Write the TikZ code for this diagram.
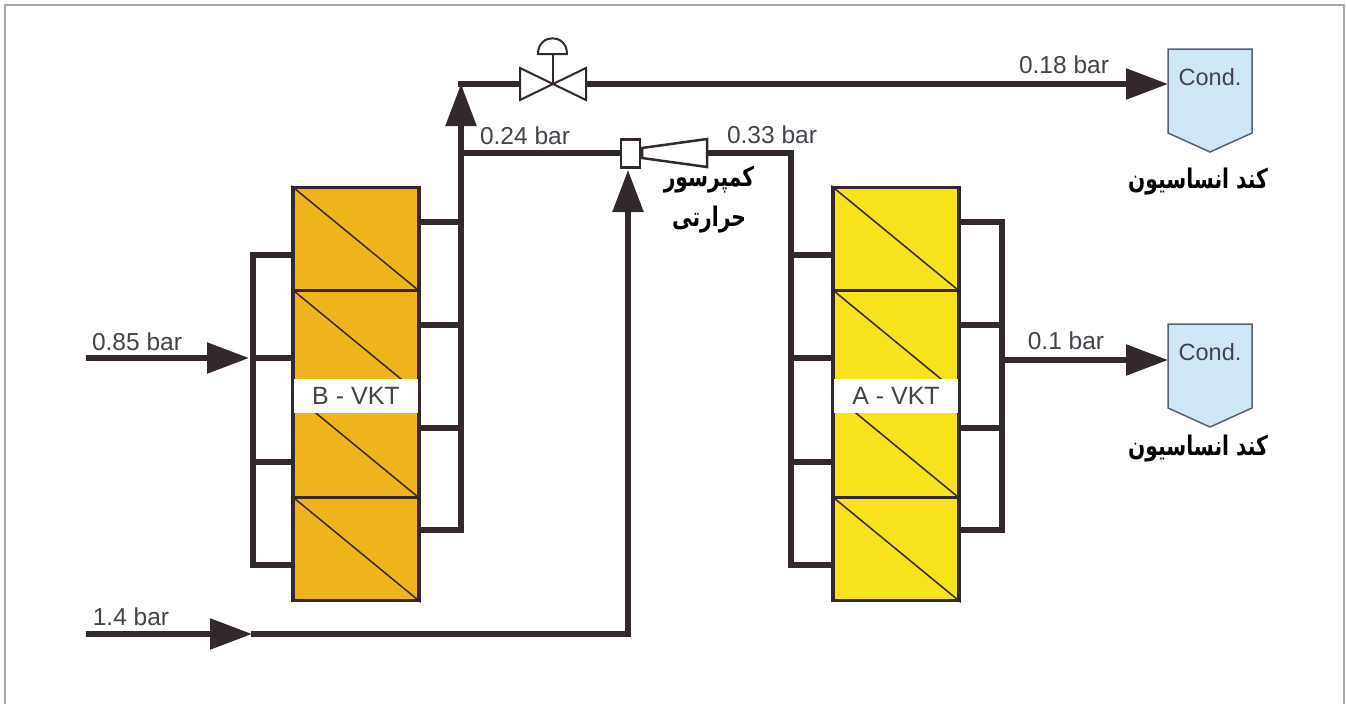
\documentclass[tikz,border=0pt]{standalone}
\usepackage{fontspec}
\usepackage{xcolor}
\usetikzlibrary{arrows.meta}
\setmainfont{Liberation Sans}
\newfontfamily\arabicfont[Script=Arabic,FakeStretch=0.75]{DejaVu Sans}
\TeXXeTstate=1
\definecolor{pipedark}{HTML}{33282B}
\definecolor{labelgray}{HTML}{45424A}
\definecolor{vktorange}{HTML}{EFB41C}
\definecolor{vktyellow}{HTML}{F8E21C}
\definecolor{condblue}{HTML}{CFE6F5}
\definecolor{condedge}{HTML}{5A5F70}
\begin{document}
\begin{tikzpicture}[x=1pt,y=-1pt,line join=miter,
  pipe/.style={draw=pipedark,line width=5.5},
  flow/.style={pipe,-{Triangle[length=42pt,width=30pt]}},
  module/.style={draw=pipedark,line width=3.5,minimum width=126,minimum height=103,inner sep=0},
  band/.style={fill=white,minimum width=124,minimum height=34,inner sep=0,text=labelgray,font=\fontsize{25}{25}\selectfont},
  barlabel/.style={text=labelgray,inner sep=0,font=\fontsize{24.5}{24.5}\selectfont},
  farsi/.style={text=black,inner sep=0,font=\fontsize{27}{27}\selectfont\arabicfont\bfseries},
  part/.style={draw=pipedark,line width=2.5,fill=white}]
\useasboundingbox (0,0) rectangle (1346,704);
\draw[draw=gray!70,line width=2.5] (5,704) -- (5,5) -- (1344,5) -- (1344,704);

\foreach \stk/\crlr/\xx/\xl/\xr in {b/vktorange/356/253/461,a/vktyellow/896/791/1002}
{ \foreach \i/\yy/\yl/\yr in {1/239/255/222,2/342/358/325,3/446/462/428,4/549/565/530}
  { \node [module,fill=\crlr] (\stk\i) at (\xx,\yy) {};
    \draw[line width=1.5,draw=pipedark] (\stk\i.north west) -- (\stk\i.south east);
    \coordinate (\stk l\i) at (\xl,\yl);
    \coordinate (\stk r\i) at (\xr,\yr);
    \draw[pipe] (\stk l\i) -- (\stk l\i -| \stk\i.west);
    \draw[pipe] (\stk r\i) -- (\stk r\i -| \stk\i.east);}
}
\node [band] (bband) at (356,396) {B - VKT};
\node [band] (aband) at (896,396) {A - VKT};

\foreach \nm/\yy/\ya in {top/49/84,low/324/360}
{ \draw[draw=condedge,line width=1.5,fill=condblue] (1168,\yy) -- (1252,\yy) -- (1252,\yy+84) -- (1210,\yy+103) -- (1168,\yy+84) -- cycle;
  \node [text=labelgray,inner sep=0,font=\fontsize{23.5}{23.5}\selectfont] (cond\nm) at (1210,\yy+28) {Cond.};
  \coordinate (in\nm) at (1168,\ya);}

\coordinate (upend) at (461,84);
\coordinate (midjoin) at (461,153);
\coordinate (valvel) at (520,84);
\coordinate (valvec) at (553,84);
\coordinate (valver) at (586,84);
\coordinate (coneout) at (707,153);
\coordinate (aturn) at (791,153);
\coordinate (outa) at (1002,360);
\coordinate (feedb) at (86,358);
\coordinate (feedbend) at (249,358);
\coordinate (feedc) at (86,634);
\coordinate (feedcend) at (252,634);
\coordinate (linec) at (254,634);
\coordinate (turnc) at (628,634);
\coordinate (mixin) at (628,170);
\node [part,minimum width=19,minimum height=28,inner sep=0] (mixer) at (630.5,153.5) {};

\draw[pipe,line cap=rect] (bl1) -- (bl4);
\draw[pipe,line cap=rect] (ar1) -- (ar4);
\draw[pipe,line cap=rect] (aturn) -- (al4);
\draw[pipe,line cap=rect] (br4) -- (br3);
\draw[flow] (br4) -- (upend);
\draw[pipe,line cap=rect] (upend) -- (valvel);
\draw[flow] (valver) -- (intop);
\draw[pipe] (midjoin) -- (mixer.west |- midjoin);
\draw[pipe,line cap=rect] (coneout) -- (aturn);
\draw[flow] (outa) -- (inlow);
\draw[flow] (feedb) -- (feedbend);
\draw[flow] (feedc) -- (feedcend);
\draw[pipe,line cap=rect] (linec) -- (turnc);
\draw[flow] (turnc) -- (mixin);

\draw[part,line width=2] (valvel) -- ++(0,-16) -- (valver |- 0,100) -- (valver |- 0,68) -- (valvel |- 0,100) -- cycle;
\draw[part,line width=2] (538,54) .. controls (538,33) and (567,33) .. (567,54) -- cycle;
\draw[draw=pipedark,line width=2] (valvec) -- (553,54);
\draw[part] (642,148) -- (707,139) -- (707,167) -- (642,158) -- cycle;

\node [barlabel] (lab18) at (1064,65) {0.18 bar};
\node [barlabel] (lab85) at (137,342) {0.85 bar};
\node [barlabel] (lab14) at (131,617) {1.4 bar};
\node [barlabel] (lab24) at (525,136) {0.24 bar};
\node [barlabel] (lab33) at (772,135) {0.33 bar};
\node [barlabel] (lab10) at (1066,341) {0.1 bar};
\node [farsi] (comp) at (709,180) {\beginR کمپرسور\endR};
\node [farsi] (therm) at (709,220) {\beginR حرارتی\endR};
\node [farsi] (condt) at (1198,182) {\beginR کند انساسیون\endR};
\node [farsi] (condl) at (1198,449) {\beginR کند انساسیون\endR};
\end{tikzpicture}
\end{document}
